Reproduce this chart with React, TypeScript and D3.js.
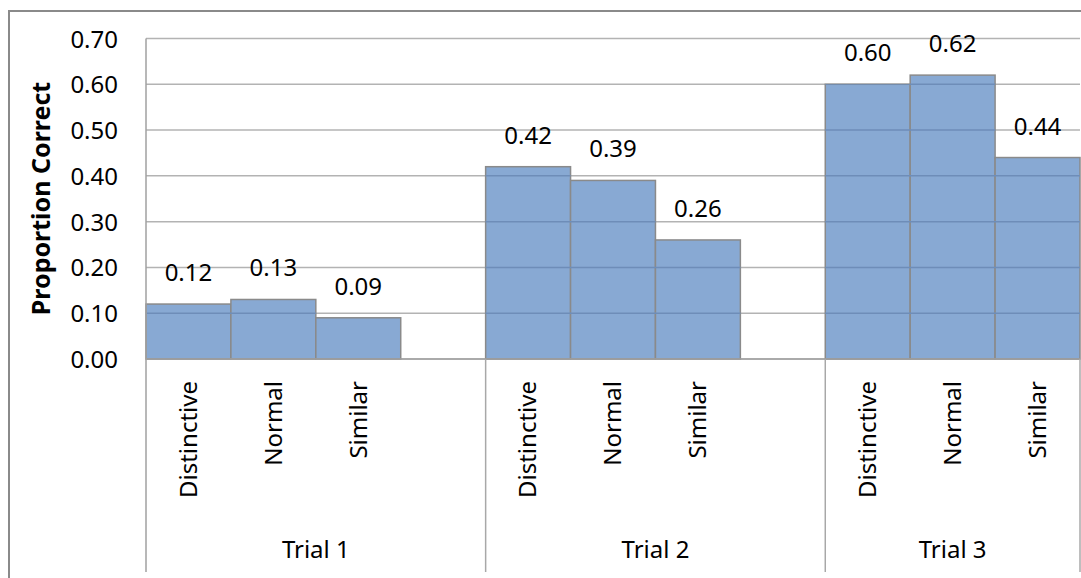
import React from "react";
import * as d3 from "d3";

const trials = ["Trial 1", "Trial 2", "Trial 3"];
const conditions = ["Distinctive", "Normal", "Similar"];
const trial1Values = [0.12, 0.13, 0.09];
const trial2Values = [0.42, 0.39, 0.26];
const trial3Values = [0.6, 0.62, 0.44];
const yTicks = [0, 0.1, 0.2, 0.3, 0.4, 0.5, 0.6, 0.7];
const yTitle = "Proportion Correct";

const W = 1081;
const H = 578;
const left = 146;
const right = 1080;
const top = 38.5;
const bottom = 359;
const catBottom = 572;
const FONT = "'Noto Sans', 'Open Sans', sans-serif";

export default function App() {
  const seriesByTrial = [trial1Values, trial2Values, trial3Values];
  const slots: string[] = [];
  trials.forEach((t, g) => {
    conditions.forEach((c) => slots.push(`${t}|${c}`));
    if (g < trials.length - 1) slots.push(`gap${g}`);
  });
  const x = d3.scaleBand<string>().domain(slots).range([left, right]).padding(0);
  const y = d3.scaleLinear().domain([0, 0.7]).range([bottom, top]);

  const bars = trials.flatMap((t, g) =>
    conditions.map((c, i) => ({ key: `${t}|${c}`, trial: t, cond: c, v: seriesByTrial[g][i] }))
  );

  const separators = [left, ...trials.map((t, g) => (g < trials.length - 1 ? x(`gap${g}`)! + x.bandwidth() : right))];
  const groupEdges = trials.map((t, g) => ({ t, x0: separators[g], x1: separators[g + 1] }));

  return (
    <svg width={W} height={H} style={{ position: "absolute", left: 0, top: 0, background: "#fff" }} fontFamily={FONT}>
      <defs>
        <clipPath id="barsClip">
          {bars.map((b) => (
            <rect key={b.key} x={x(b.key)!} y={y(b.v)} width={x.bandwidth()} height={bottom - y(b.v)} />
          ))}
        </clipPath>
      </defs>
      <rect x={9} y={11} width={W + 20} height={H + 20} fill="none" stroke="#8a8a8a" strokeWidth={2} />
      {yTicks.map((t) => (
        <line key={`g${t}`} x1={left} x2={right} y1={y(t)} y2={y(t)} stroke="#b3b3b3" strokeWidth={1.5} />
      ))}
      {bars.map((b) => (
        <rect
          key={b.key}
          x={x(b.key)!}
          y={y(b.v)}
          width={x.bandwidth()}
          height={bottom - y(b.v)}
          fill="#88a9d3"
          stroke="#8a8a8a"
          strokeWidth={1.5}
        />
      ))}
      <g clipPath="url(#barsClip)">
        {yTicks.slice(1).map((t) => (
          <line key={`gi${t}`} x1={left} x2={right} y1={y(t)} y2={y(t)} stroke="#6e8db8" strokeWidth={1.5} />
        ))}
      </g>
      <line x1={left} x2={left} y1={top} y2={catBottom} stroke="#a0a0a0" strokeWidth={1.5} />
      <line x1={left} x2={right} y1={bottom} y2={bottom} stroke="#a0a0a0" strokeWidth={1.5} />
      {separators.slice(1).map((sx, i) => (
        <line key={`s${i}`} x1={sx} x2={sx} y1={bottom} y2={catBottom} stroke="#a8a8a8" strokeWidth={1.5} />
      ))}
      {yTicks.map((t) => (
        <text key={`t${t}`} x={118} y={y(t) + 9} textAnchor="end" fontSize={24} fill="#000">
          {t.toFixed(2)}
        </text>
      ))}
      <text
        transform={`translate(41,198.5) rotate(-90)`}
        textAnchor="middle"
        dy="0.35em"
        fontSize={25}
        fontWeight="bold"
        fill="#000"
      >
        {yTitle}
      </text>
      {bars.map((b) => (
        <text
          key={`v${b.key}`}
          x={x(b.key)! + x.bandwidth() / 2}
          y={y(b.v) - 23}
          textAnchor="middle"
          fontSize={24}
          fill="#000"
        >
          {b.v.toFixed(2)}
        </text>
      ))}
      {bars.map((b) => (
        <text
          key={`c${b.key}`}
          transform={`translate(${x(b.key)! + x.bandwidth() / 2},381) rotate(-90)`}
          textAnchor="end"
          dy="0.35em"
          fontSize={24}
          fill="#000"
        >
          {b.cond}
        </text>
      ))}
      {groupEdges.map((g) => (
        <text key={`tr${g.t}`} x={(g.x0 + g.x1) / 2} y={558} textAnchor="middle" fontSize={24} fill="#000">
          {g.t}
        </text>
      ))}
    </svg>
  );
}
